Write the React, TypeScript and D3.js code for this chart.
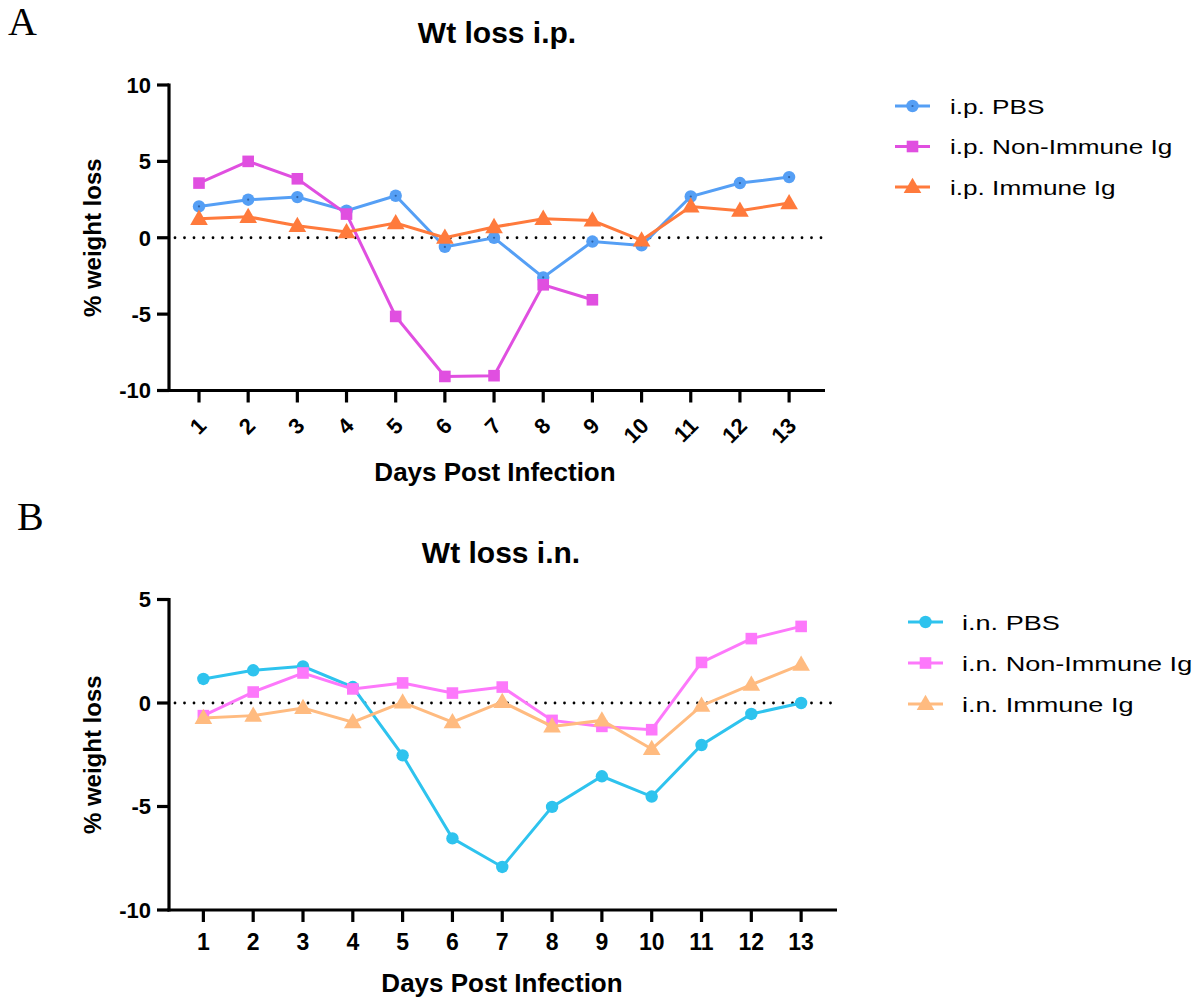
import React from "react";
import * as d3 from "d3";

const days = [1, 2, 3, 4, 5, 6, 7, 8, 9, 10, 11, 12, 13];
const yTicksA = [-10, -5, 0, 5, 10];
const yTicksB = [-10, -5, 0, 5];

const ipPBS = [2.05, 2.49, 2.66, 1.77, 2.75, -0.6, 0.0, -2.6, -0.25, -0.5, 2.7, 3.58, 3.97];
const ipNonImmune = [3.58, 5.0, 3.86, 1.55, -5.15, -9.08, -9.03, -3.08, -4.06];
const ipImmune = [1.24, 1.37, 0.78, 0.37, 0.96, 0.0, 0.7, 1.24, 1.13, -0.17, 2.05, 1.77, 2.27];

const inPBS = [1.16, 1.58, 1.77, 0.77, -2.53, -6.54, -7.92, -5.02, -3.54, -4.52, -2.03, -0.53, 0.0];
const inNonImmune = [-0.61, 0.53, 1.45, 0.68, 0.97, 0.48, 0.77, -0.84, -1.13, -1.29, 1.96, 3.11, 3.7];
const inImmune = [-0.72, -0.61, -0.24, -0.93, 0.03, -0.93, 0.05, -1.13, -0.84, -2.22, -0.13, 0.89, 1.85];

type Shape = "circle" | "square" | "triangle";
interface Series { name: string; values: number[]; color: string; shape: Shape; dot?: string; }

const seriesA: Series[] = [
  { name: "i.p. PBS", values: ipPBS, color: "#559ff5", shape: "circle", dot: "#2c62a8" },
  { name: "i.p. Non-Immune Ig", values: ipNonImmune, color: "#e04fe0", shape: "square" },
  { name: "i.p. Immune Ig", values: ipImmune, color: "#ff7a3c", shape: "triangle" },
];
const seriesB: Series[] = [
  { name: "i.n. PBS", values: inPBS, color: "#2ec3ee", shape: "circle" },
  { name: "i.n. Non-Immune Ig", values: inNonImmune, color: "#fd78fb", shape: "square" },
  { name: "i.n. Immune Ig", values: inImmune, color: "#ffbb80", shape: "triangle" },
];

const FONT = "Arial, 'Liberation Sans', Helvetica, sans-serif";
const SERIF = "'Liberation Serif', 'Times New Roman', serif";

function Marker({ shape, x, y, color, dot }: { shape: Shape; x: number; y: number; color: string; dot?: string }) {
  if (shape === "circle")
    return (
      <g>
        <circle cx={x} cy={y} r={6.2} fill={color} />
        {dot ? <circle cx={x} cy={y} r={1.1} fill={dot} /> : null}
      </g>
    );
  if (shape === "square") return <rect x={x - 5.8} y={y - 5.8} width={11.6} height={11.6} fill={color} />;
  const s = d3.symbol().type(d3.symbolTriangle).size(135)();
  return <path d={s || ""} transform={`translate(${x},${y + 1})`} fill={color} />;
}

interface PanelProps {
  series: Series[];
  title: string;
  titleX: number;
  titleY: number;
  xRange: [number, number];
  xDomain: [number, number];
  yRange: [number, number];
  yDomain: [number, number];
  yTicks: number[];
  rotateLabels: boolean;
  xLabelY: number;
  xLabelX: number;
  legendX: number;
  legendY: number;
  legendGap: number;
  legendTextDx: number;
  legendStretch: number;
}

function Panel(p: PanelProps) {
  const x = d3.scaleLinear().domain(p.xDomain).range(p.xRange);
  const y = d3.scaleLinear().domain(p.yDomain).range(p.yRange);
  const line = d3.line<number>().x((_, i) => x(days[i])).y((v) => y(v));
  const x0 = p.xRange[0];
  const yb = p.yRange[0];
  return (
    <g>
      <text x={p.titleX} y={p.titleY} textAnchor="middle" fontFamily={FONT} fontWeight="bold" fontSize={30}>{p.title}</text>
      <line x1={x0 + 6} x2={p.xRange[1]} y1={y(0)} y2={y(0)} stroke="#000" strokeWidth={2.8} strokeDasharray="0 9.5" strokeLinecap="round" />
      {p.series.map((s) => (
        <g key={s.name}>
          <path d={line(s.values) || ""} fill="none" stroke={s.color} strokeWidth={3} />
          {s.values.map((v, i) => (
            <Marker key={i} shape={s.shape} x={x(days[i])} y={y(v)} color={s.color} dot={s.dot} />
          ))}
        </g>
      ))}
      <line x1={x0} x2={x0} y1={p.yRange[1] - 1.5} y2={yb + 1.5} stroke="#000" strokeWidth={3.2} />
      <line x1={x0 - 1.5} x2={p.xRange[1]} y1={yb} y2={yb} stroke="#000" strokeWidth={3.2} />
      {p.yTicks.map((t) => (
        <g key={t}>
          <line x1={x0 - 12} x2={x0} y1={y(t)} y2={y(t)} stroke="#000" strokeWidth={3.2} />
          <text x={x0 - 18} y={y(t)} dy="0.36em" textAnchor="end" fontFamily={FONT} fontWeight="bold" fontSize={22}>{t}</text>
        </g>
      ))}
      {days.map((d) => (
        <g key={d}>
          <line x1={x(d)} x2={x(d)} y1={yb} y2={yb + 12} stroke="#000" strokeWidth={3.2} />
          {p.rotateLabels ? (
            <text transform={`translate(${x(d) + 3},${yb + 31}) rotate(-45)`} dy="0.36em" textAnchor="end" fontFamily={FONT} fontWeight="bold" fontSize={22}>{d}</text>
          ) : (
            <text x={x(d)} y={yb + 32} dy="0.36em" textAnchor="middle" fontFamily={FONT} fontWeight="bold" fontSize={23}>{d}</text>
          )}
        </g>
      ))}
      <text x={p.xLabelX} y={p.xLabelY} textAnchor="middle" fontFamily={FONT} fontWeight="bold" fontSize={26}>Days Post Infection</text>
      <text transform={`translate(92,${(p.yRange[0] + p.yRange[1]) / 2}) rotate(-90)`} dy="0.36em" textAnchor="middle" fontFamily={FONT} fontWeight="bold" fontSize={24}>% weight loss</text>
      {p.series.map((s, i) => {
        const ly = p.legendY + i * p.legendGap;
        return (
          <g key={s.name}>
            <line x1={p.legendX} x2={p.legendX + 35} y1={ly} y2={ly} stroke={s.color} strokeWidth={3} />
            <Marker shape={s.shape} x={p.legendX + 17.5} y={ly} color={s.color} dot={s.dot} />
            <text transform={`translate(${p.legendX + p.legendTextDx},${ly}) scale(${p.legendStretch},1)`} dy="0.36em" fontFamily={FONT} fontSize={21}>{s.name}</text>
          </g>
        );
      })}
    </g>
  );
}

export default function App() {
  return (
    <svg width={1202} height={998} style={{ position: "absolute", left: 0, top: 0, background: "#fff" }}>
      <rect width={1202} height={998} fill="#fff" />
      <text x={8} y={35} fontFamily={SERIF} fontSize={40}>A</text>
      <text x={17} y={530} fontFamily={SERIF} fontSize={40}>B</text>
      <Panel
        series={seriesA}
        title="Wt loss i.p."
        titleX={497}
        titleY={43}
        xRange={[169, 825]}
        xDomain={[0.39, 13.73]}
        yRange={[390.5, 85]}
        yDomain={[-10, 10]}
        yTicks={yTicksA}
        rotateLabels={true}
        xLabelY={481}
        xLabelX={495}
        legendX={895}
        legendY={106}
        legendGap={40.5}
        legendTextDx={55}
        legendStretch={1.245}
      />
      <Panel
        series={seriesB}
        title="Wt loss i.n."
        titleX={501}
        titleY={563}
        xRange={[169, 837]}
        xDomain={[0.31, 13.72]}
        yRange={[910, 599.5]}
        yDomain={[-10, 5]}
        yTicks={yTicksB}
        rotateLabels={false}
        xLabelY={992}
        xLabelX={502}
        legendX={908}
        legendY={622}
        legendGap={41}
        legendTextDx={54}
        legendStretch={1.29}
      />
    </svg>
  );
}
